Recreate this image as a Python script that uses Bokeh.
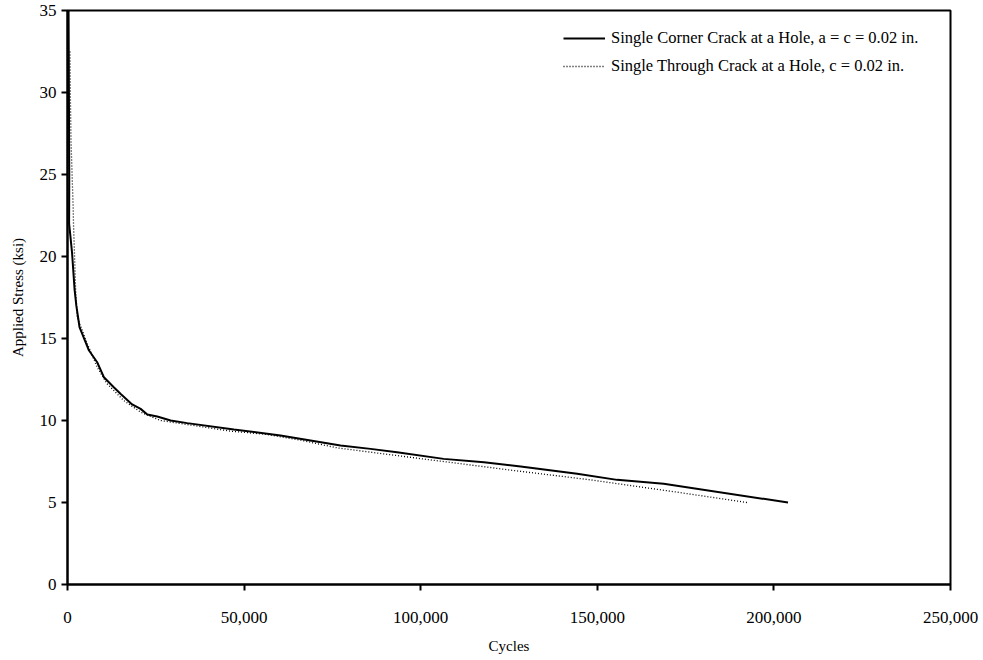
from bokeh.plotting import figure
from bokeh.models import Range1d, FixedTicker, NumeralTickFormatter, Legend, LegendItem
from bokeh.embed import file_html
from bokeh.resources import INLINE

# Fatigue life curves: applied stress vs. cycles
corner_cycles = [300, 400, 450, 500, 450, 700, 1300, 2000, 2500, 3400, 6000, 8400,
                 10300, 13100, 15000, 18300, 20700, 22600, 25400, 29200, 33900,
                 47100, 60300, 77300, 85800, 93300, 106500, 117900, 128300,
                 144300, 155600, 168800, 204000]
corner_stress = [35, 30, 27, 25, 22, 21.5, 20.2, 18.0, 17.0, 15.7, 14.3, 13.55,
                 12.64, 12.03, 11.63, 10.98, 10.71, 10.37, 10.24, 10.0, 9.84,
                 9.45, 9.09, 8.48, 8.27, 8.07, 7.66, 7.46, 7.2,
                 6.75, 6.38, 6.14, 5.0]

through_cycles = [700, 800, 1000, 1300, 1600, 1700, 2000, 2300, 2750, 5600, 8400,
                  11200, 15900, 20700, 26300, 37700, 46200, 56500, 66000, 76400,
                  102700, 126400, 148100, 172600, 192400]
through_stress = [32.5, 30, 27, 25, 23, 22, 20, 18, 16.3, 14.68, 13.25,
                  12.24, 11.22, 10.51, 10.0, 9.63, 9.35, 9.15, 8.8, 8.33,
                  7.6, 6.95, 6.38, 5.63, 5.0]

x_ticks = [0, 50000, 100000, 150000, 200000, 250000]
y_ticks = [0, 5, 10, 15, 20, 25, 30, 35]

labels = ["Single Corner Crack at a Hole, a = c = 0.02 in.",
          "Single Through Crack at a Hole, c = 0.02 in."]

FONT = "Liberation Serif"

p = figure(width=983, height=660, output_backend="svg", toolbar_location=None,
           x_range=Range1d(0, 250000), y_range=Range1d(0, 35),
           min_border_left=67, min_border_right=33, min_border_top=10,
           min_border_bottom=76)
p.xgrid.visible = False
p.ygrid.visible = False
p.outline_line_color = "black"
p.outline_line_width = 2
p.background_fill_color = "white"

r1 = p.line(corner_cycles, corner_stress, line_color="black", line_width=2)
r2 = p.line(through_cycles, through_stress, line_color="black", line_width=1.3,
            line_dash="1 2")

for ax in (p.xaxis[0], p.yaxis[0]):
    ax.axis_line_width = 2
    ax.axis_line_color = "black"
    ax.major_tick_line_width = 2
    ax.major_tick_out = 6
    ax.major_tick_in = 0
    ax.minor_tick_out = 0
    ax.minor_tick_in = 0
    ax.major_label_text_font = FONT
    ax.major_label_text_font_size = "17px"
    ax.major_label_text_color = "black"
    ax.axis_label_text_font = FONT
    ax.axis_label_text_font_size = "15px"
    ax.axis_label_text_font_style = "normal"
    ax.axis_label_text_color = "black"

p.xaxis.ticker = FixedTicker(ticks=x_ticks)
p.xaxis.formatter = NumeralTickFormatter(format="0,0")
p.xaxis.major_label_standoff = 21
p.xaxis.axis_label = "Cycles"
p.xaxis.axis_label_standoff = 12

p.yaxis.ticker = FixedTicker(ticks=y_ticks)
p.yaxis.major_label_standoff = 5
p.yaxis.axis_label = "Applied Stress (ksi)"
p.yaxis.axis_label_standoff = 11

legend = Legend(items=[LegendItem(label=labels[0], renderers=[r1]),
                       LegendItem(label=labels[1], renderers=[r2])],
                location=(496, 508), orientation="vertical",
                border_line_color=None, background_fill_alpha=0,
                padding=0, margin=0, spacing=8,
                glyph_width=42, glyph_height=20, label_height=20,
                label_standoff=6,
                label_text_font=FONT, label_text_font_size="16.5px",
                label_text_color="black")
p.add_layout(legend)

open("out.html", "w").write(file_html(p, INLINE))
